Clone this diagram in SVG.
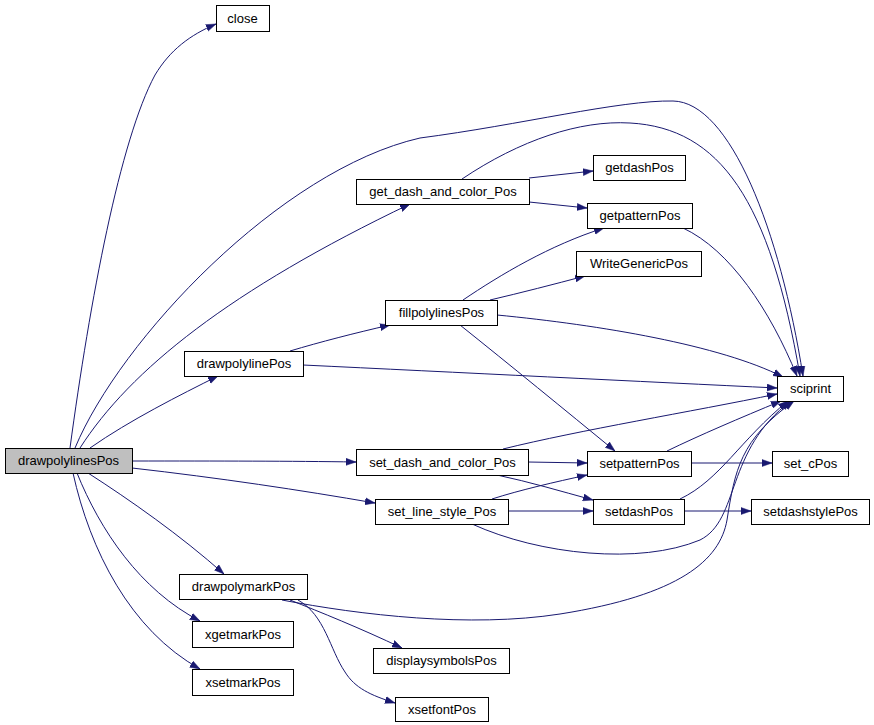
<svg xmlns="http://www.w3.org/2000/svg" width="874" height="725" viewBox="0 0 874 725">
<defs>
<style>
.n rect{fill:#fff;stroke:#000;stroke-width:1}
.n text{font-family:"Liberation Sans",Arial,sans-serif;font-size:13px;fill:#000;text-anchor:middle}
#n_drawpolylinesPos rect{fill:#bfbfbf}
.e path{fill:none;stroke:#191970;stroke-width:1;marker-end:url(#arr)}
</style>
<marker id="arr" viewBox="0 0 10 8" markerWidth="10" markerHeight="8" refX="10" refY="4" orient="auto" markerUnits="userSpaceOnUse">
<path d="M0,0.5 L10,4 L0,7.5 Z" fill="#191970" stroke="#191970" stroke-width="0.5"/>
</marker>
</defs>
<rect width="874" height="725" fill="#fff"/>
<g id="edges" class="e">
<path d="M70,448 C 90,300 120,140 155,75 C 170,50 190,35 216,24"/>
<path d="M75,448 C 120,340 280,170 420,138 C 520,125 620,100 673,101 C 730,102 780,230 803,376"/>
<path d="M80,448 C 130,370 230,290 410,204"/>
<path d="M90,448 C 130,420 180,395 218,376"/>
<path d="M132,461 C 220,461 290,461 356,462"/>
<path d="M132,468 C 220,478 300,490 375,503"/>
<path d="M88,473 C 130,500 180,535 224,574"/>
<path d="M77,473 C 100,530 140,590 200,621"/>
<path d="M73,473 C 90,550 130,630 200,669"/>
<path d="M529,178 L 593,171"/>
<path d="M529,202 L 587,208"/>
<path d="M462,179 C 520,140 580,120 630,123 C 720,128 770,200 800,376"/>
<path d="M290,351 C 320,342 355,333 390,325"/>
<path d="M303,365 C 450,372 650,382 777,388"/>
<path d="M463,300 C 500,275 550,245 604,228"/>
<path d="M490,300 C 520,293 555,284 585,276"/>
<path d="M497,315 C 600,325 720,345 783,377"/>
<path d="M460,325 C 510,365 565,410 615,451"/>
<path d="M683,228 C 730,250 770,310 797,376"/>
<path d="M528,462 L 587,463"/>
<path d="M497,475 C 530,482 560,491 593,500"/>
<path d="M503,449 C 580,430 690,412 777,394"/>
<path d="M492,499 C 520,490 555,482 587,475"/>
<path d="M508,511 L 593,511"/>
<path d="M472,524 C 540,555 640,565 700,540 C 740,520 725,450 791,401"/>
<path d="M691,463 L 772,463"/>
<path d="M667,451 C 700,435 740,418 781,401"/>
<path d="M684,511 L 751,511"/>
<path d="M680,499 C 720,480 740,440 788,401"/>
<path d="M282,600 C 360,615 470,628 560,614 C 680,595 720,560 727,520 C 735,470 740,440 794,401"/>
<path d="M290,600 C 320,612 360,628 402,648"/>
<path d="M298,600 C 325,615 330,650 345,672 C 355,688 370,695 395,703"/>
</g>
<g id="n_close" class="n"><rect x="216.5" y="5.5" width="53" height="26"/><text x="242.5" y="22.5">close</text></g>
<g id="n_drawpolylinesPos" class="n"><rect x="5.5" y="448.5" width="127" height="25"/><text x="68.5" y="465">drawpolylinesPos</text></g>
<g id="n_drawpolymarkPos" class="n"><rect x="179.5" y="574.5" width="128" height="25"/><text x="243.5" y="591">drawpolymarkPos</text></g>
<g id="n_xgetmarkPos" class="n"><rect x="192.5" y="621.5" width="101" height="26"/><text x="243" y="639">xgetmarkPos</text></g>
<g id="n_xsetmarkPos" class="n"><rect x="192.5" y="669.5" width="101" height="26"/><text x="243" y="687">xsetmarkPos</text></g>
<g id="n_get_dash_and_color_Pos" class="n"><rect x="356.5" y="179.5" width="173" height="25"/><text x="443" y="196">get_dash_and_color_Pos</text></g>
<g id="n_getdashPos" class="n"><rect x="593.5" y="155.5" width="92" height="25"/><text x="639.5" y="172">getdashPos</text></g>
<g id="n_getpatternPos" class="n"><rect x="587.5" y="203.5" width="105" height="25"/><text x="640" y="220">getpatternPos</text></g>
<g id="n_WriteGenericPos" class="n"><rect x="576.5" y="251.5" width="125" height="25"/><text x="639" y="268">WriteGenericPos</text></g>
<g id="n_fillpolylinesPos" class="n"><rect x="385.5" y="300.5" width="112" height="25"/><text x="441.5" y="317">fillpolylinesPos</text></g>
<g id="n_drawpolylinePos" class="n"><rect x="184.5" y="351.5" width="119" height="25"/><text x="244" y="368">drawpolylinePos</text></g>
<g id="n_sciprint" class="n"><rect x="777.5" y="376.5" width="66" height="25"/><text x="810.5" y="393">sciprint</text></g>
<g id="n_set_dash_and_color_Pos" class="n"><rect x="356.5" y="449.5" width="172" height="26"/><text x="442.5" y="467">set_dash_and_color_Pos</text></g>
<g id="n_set_line_style_Pos" class="n"><rect x="375.5" y="499.5" width="133" height="25"/><text x="442" y="516">set_line_style_Pos</text></g>
<g id="n_setpatternPos" class="n"><rect x="587.5" y="451.5" width="104" height="25"/><text x="639.5" y="468">setpatternPos</text></g>
<g id="n_set_cPos" class="n"><rect x="772.5" y="451.5" width="76" height="25"/><text x="810.5" y="468">set_cPos</text></g>
<g id="n_setdashPos" class="n"><rect x="593.5" y="499.5" width="91" height="25"/><text x="639" y="516">setdashPos</text></g>
<g id="n_setdashstylePos" class="n"><rect x="751.5" y="499.5" width="118" height="25"/><text x="810.5" y="516">setdashstylePos</text></g>
<g id="n_displaysymbolsPos" class="n"><rect x="373.5" y="648.5" width="136" height="25"/><text x="441.5" y="665">displaysymbolsPos</text></g>
<g id="n_xsetfontPos" class="n"><rect x="395.5" y="697.5" width="93" height="24"/><text x="442" y="714">xsetfontPos</text></g>
</svg>
